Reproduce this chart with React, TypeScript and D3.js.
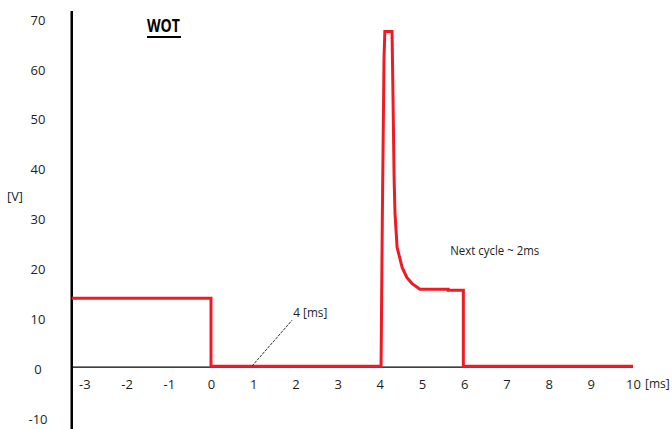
import * as d3 from "d3";
import React, { useEffect, useRef } from "react";

const WIDTH = 672;
const HEIGHT = 429;
const FONT = "'Open Sans', 'Liberation Sans', sans-serif";
const TEXT_COLOR = "#1e1e1e";

// time [ms] and voltage [V] of the sketched WOT signal
const timeMs = [
    -3.3, 0, 0, 4.03, 4.06, 4.1, 4.12, 4.29, 4.31, 4.34, 4.36, 4.41, 4.53, 4.64,
    4.76, 4.95, 5.62, 5.62, 5.98, 5.98, 10,
];
const voltage = [
    13.8, 13.8, 0.2, 0.2, 30, 62, 67.3, 67.3, 56, 37.5, 30.9, 24, 20, 18, 16.8,
    15.6, 15.6, 15.4, 15.4, 0.2, 0.2,
];

const xTicks = [-3, -2, -1, 0, 1, 2, 3, 4, 5, 6, 7, 8, 9, 10];
const yTicks = [-10, 0, 10, 20, 30, 40, 50, 60, 70];

const axisStartMs = -3.3;
const annotationLine = { from: [0.97, 0.2], to: [1.92, 9.4] };
const annotationText = { x: 1.95, y: 10.9, label: "4 [ms]" };
const nextCycleText = { x: 5.67, y: 23.4, label: "Next cycle ~ 2ms" };

const App: React.FC = () => {
    const xAxisRef = useRef<SVGGElement>(null);
    const yAxisRef = useRef<SVGGElement>(null);

    const xScale = d3.scaleLinear().domain([-3, 10]).range([84.4, 633]);
    const yScale = d3.scaleLinear().domain([-10, 70]).range([417, 18]);

    useEffect(() => {
        const xg = d3.select(xAxisRef.current);
        xg.selectAll("*").remove();
        xg.call(
            d3
                .axisBottom(xScale)
                .tickValues(xTicks)
                .tickSize(0)
                .tickPadding(0)
                .tickFormat((d) => String(d))
        );
        xg.select(".domain").remove();
        xg.selectAll("text")
            .attr("font-family", FONT)
            .attr("font-size", 13)
            .attr("fill", TEXT_COLOR);

        const yg = d3.select(yAxisRef.current);
        yg.selectAll("*").remove();
        yg.call(
            d3
                .axisLeft(yScale)
                .tickValues(yTicks)
                .tickSize(0)
                .tickPadding(0)
                .tickFormat((d) => String(d))
        );
        yg.select(".domain").remove();
        yg.selectAll("text")
            .attr("text-anchor", "middle")
            .attr("font-family", FONT)
            .attr("font-size", 13)
            .attr("fill", TEXT_COLOR);
    }, []);

    const points: [number, number][] = timeMs.map((t, i) => [t, voltage[i]]);
    const line = d3
        .line<[number, number]>()
        .x((d) => xScale(d[0]))
        .y((d) => yScale(d[1]));
    const path = line(points) || "";

    const axisX = xScale(axisStartMs);

    return (
        <svg width={WIDTH} height={HEIGHT} style={{ position: "absolute", left: 0, top: 0 }}>
            <rect width={WIDTH} height={HEIGHT} fill="#fff" />
            {/* axes */}
            <line x1={axisX} x2={axisX} y1={11} y2={HEIGHT} stroke="#000" strokeWidth={2.5} />
            <line x1={axisX} x2={xScale(10)} y1={yScale(0)} y2={yScale(0)} stroke="#000" strokeWidth={1.2} />
            <g ref={xAxisRef} transform="translate(0,380)" />
            <g ref={yAxisRef} transform="translate(38,2)" />

            {/* signal */}
            <path d={path} fill="none" stroke="#ed1c24" strokeWidth={3} strokeLinejoin="miter" />

            {/* annotation */}
            <line
                x1={xScale(annotationLine.from[0])}
                y1={yScale(annotationLine.from[1])}
                x2={xScale(annotationLine.to[0])}
                y2={yScale(annotationLine.to[1])}
                stroke="#333"
                strokeWidth={1}
                strokeDasharray="3,1"
            />
            <text
                x={xScale(annotationText.x)}
                y={yScale(annotationText.y)}
                dy="0.35em"
                fontFamily={FONT}
                fontSize={13}
                fill={TEXT_COLOR}
                textLength={34}
                lengthAdjust="spacingAndGlyphs"
            >
                {annotationText.label}
            </text>
            <text
                x={xScale(nextCycleText.x)}
                y={yScale(nextCycleText.y)}
                dy="0.35em"
                fontFamily={FONT}
                fontSize={13}
                fill={TEXT_COLOR}
                textLength={89}
                lengthAdjust="spacingAndGlyphs"
            >
                {nextCycleText.label}
            </text>

            {/* labels */}
            <text x={7} y={196} dy="0.35em" fontFamily={FONT} fontSize={13} fill={TEXT_COLOR} textLength={16} lengthAdjust="spacingAndGlyphs">
                [V]
            </text>
            <text x={645} y={384} dy="0.35em" fontFamily={FONT} fontSize={12} fill={TEXT_COLOR}>
                [ms]
            </text>
            <text x={147} y={26} dy="0.35em" fontFamily={FONT} fontSize={18} fontWeight="bold" fill="#000" textLength={33} lengthAdjust="spacingAndGlyphs">
                WOT
            </text>
            <line x1={147} x2={181} y1={37} y2={37} stroke="#000" strokeWidth={2} />
        </svg>
    );
};

export default App;
